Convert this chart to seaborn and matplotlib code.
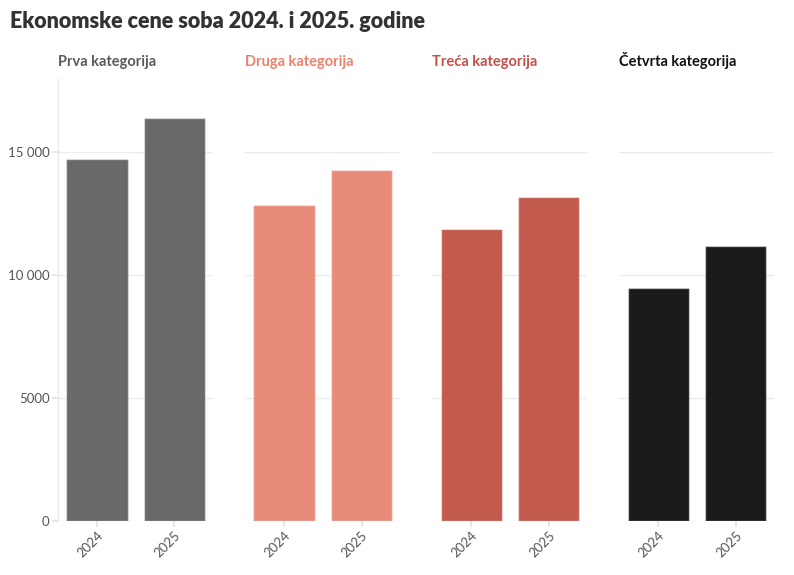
import pandas as pd
import seaborn as sns
import matplotlib.pyplot as plt
from matplotlib.ticker import FuncFormatter

# Data
categories = ["Prva kategorija", "Druga kategorija", "Treća kategorija", "Četvrta kategorija"]
years = ["2024", "2025"]
prices_2024 = [14750, 12850, 11900, 9500]
prices_2025 = [16400, 14300, 13200, 11200]
bar_colors = ["#696969", "#E98B79", "#C25B4E", "#1B1B1B"]
title_colors = ["#5a5a5a", "#EA826E", "#C4504A", "#111111"]

rows = []
for cat, v24, v25 in zip(categories, prices_2024, prices_2025):
    rows.append({"kategorija": cat, "godina": years[0], "cena": v24})
    rows.append({"kategorija": cat, "godina": years[1], "cena": v25})
df = pd.DataFrame(rows)

sns.set_theme(style="white")
plt.rcParams["font.family"] = ["Lato", "DejaVu Sans"]


def fmt_price(v, pos):
    v = int(round(v))
    if v >= 10000:
        return f"{v:,}".replace(",", " ")
    return str(v)


fig, axes = plt.subplots(1, 4, figsize=(7.94, 5.75), dpi=100, sharey=True)
fig.subplots_adjust(left=0.073, right=0.975, bottom=0.094, top=0.863, wspace=0.206)

for i, (ax, cat) in enumerate(zip(axes, categories)):
    sub = df[df["kategorija"] == cat]
    sns.barplot(data=sub, x="godina", y="cena", order=years, color=bar_colors[i],
                width=0.8, saturation=1, ax=ax, errorbar=None)
    for p in ax.patches:
        p.set_edgecolor((1, 1, 1, 0.45))
        p.set_linewidth(1.0)
    ax.set_xlim(-0.51, 1.5)
    ax.set_ylim(0, 18000)
    ax.set_yticks([0, 5000, 10000, 15000])
    ax.yaxis.set_major_formatter(FuncFormatter(fmt_price))
    ax.grid(axis="y", color="#ebebeb", linewidth=1)
    ax.set_axisbelow(True)
    ax.set_xlabel("")
    ax.set_ylabel("")
    for s in ["top", "right", "bottom", "left"]:
        ax.spines[s].set_visible(False)
    ax.tick_params(axis="x", length=4, color="#e3e3e3", labelcolor="#555555",
                   labelsize=9.5, pad=2, bottom=True)
    for lbl in ax.get_xticklabels():
        lbl.set_rotation(45)
        lbl.set_ha("right")
        lbl.set_rotation_mode("anchor")
    ax.set_title(cat, loc="left", fontsize=10.5, fontweight="bold",
                 color=title_colors[i], pad=9)
    if i == 0:
        ax.spines["left"].set_visible(True)
        ax.spines["left"].set_color("#ebebeb")
        ax.spines["left"].set_linewidth(1)
        ax.tick_params(axis="y", length=4, color="#e3e3e3", labelcolor="#555555",
                       labelsize=9.5, pad=2, left=True)
    else:
        ax.tick_params(axis="y", left=False, labelleft=False)

fig.text(0.013, 0.962, "Ekonomske cene soba 2024. i 2025. godine", fontsize=15.5,
         fontweight="heavy", color="#333333", va="center", ha="left")

fig.savefig("out.png", dpi=100)
